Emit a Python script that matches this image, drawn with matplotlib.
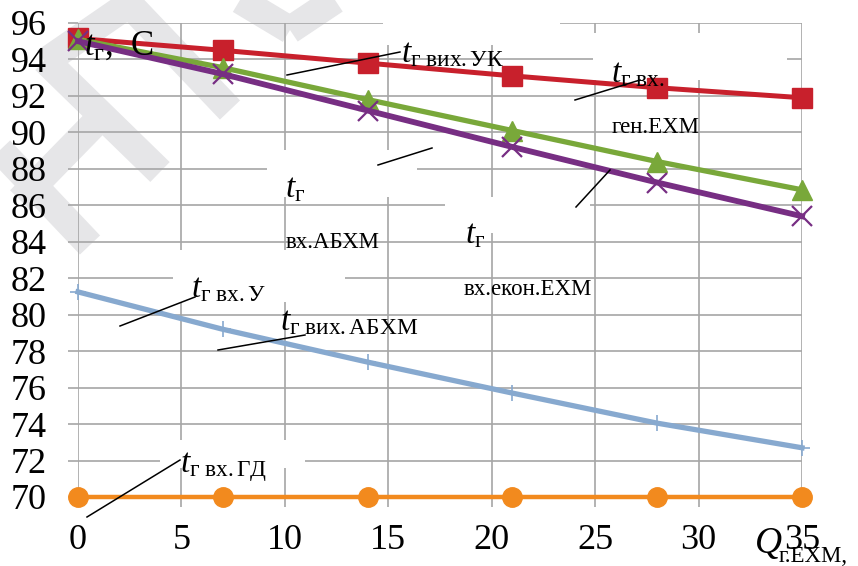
import matplotlib
matplotlib.use("Agg")
import matplotlib.pyplot as plt
from matplotlib.lines import Line2D
from matplotlib.patches import Rectangle

# load Q, kW -> gas temperatures, C
q = [0, 7, 14, 21, 28, 35]
t_vih_uk = [95.15, 94.5, 93.8, 93.1, 92.45, 91.9]
t_vh_abhm = [95.1, 93.55, 91.8, 90.1, 88.4, 86.85]
t_vh_ekon = [95.0, 93.2, 91.2, 89.2, 87.25, 85.4]
t_vih_abhm = [81.25, 79.2, 77.4, 75.7, 74.05, 72.7]
t_vh_gd = [70, 70, 70, 70, 70, 70]

xticks = [0, 5, 10, 15, 20, 25, 30, 35]
yticks = list(range(70, 97, 2))

SERIF = "Liberation Serif"
plt.rcParams["font.family"] = [SERIF, "DejaVu Serif"]
plt.rcParams["mathtext.fontset"] = "custom"
plt.rcParams["mathtext.rm"] = SERIF
plt.rcParams["mathtext.it"] = SERIF + ":italic"

W, H = 858, 566
GRID = "#a6a6a6"

def fp(x, y):
    # pixel position -> figure fraction
    return x / W, 1 - y / H

fig = plt.figure(figsize=(W / 100, H / 100), dpi=100)
l, t = fp(78, 23)
r, b = fp(802, 497)
ax = fig.add_axes([l, b, r - l, t - b])

# watermark strokes
for (x0, y0), (x1, y1) in [((0, 150), (90, 245)), ((45, 60), (160, 172)),
                           ((20, 200), (100, 118)), ((45, 62), (135, 0)),
                           ((130, 5), (230, 110)),
                           ((240, 0), (290, 30)), ((290, 30), (335, 0))]:
    a0, b0 = fp(x0, y0)
    a1, b1 = fp(x1, y1)
    fig.add_artist(Line2D([a0, a1], [b0, b1], transform=fig.transFigure,
                          color="#e6e6e8", lw=20, solid_capstyle="butt",
                          zorder=0))
ax.patch.set_alpha(0)

ax.plot(q, t_vih_abhm, color="#87a9cf", lw=3.8, marker="+", ms=11, mew=1.2,
        zorder=3, clip_on=False)
ax.plot(q, t_vh_gd, color="#f28a1e", lw=3.2, marker="o", ms=14,
        zorder=3, clip_on=False)
ax.plot(q, t_vih_uk, color="#c8202c", lw=3.6, marker="s", ms=14,
        zorder=3, clip_on=False)
ax.plot(q, t_vh_abhm, color="#79a83a", lw=3.8, marker="^", ms=14,
        zorder=3, clip_on=False)
ax.plot(q, t_vh_ekon, color="#772e83", lw=4.2, marker="x", ms=14, mew=1.6,
        zorder=3, clip_on=False)

ax.set_xlim(0, 35)
ax.set_ylim(70, 96)
ax.set_xticks(xticks)
ax.set_yticks(yticks)
ax.grid(True, color=GRID, lw=1.2)
ax.set_axisbelow(True)
for s in ax.spines.values():
    s.set_visible(False)
ax.tick_params(length=7.5, width=1.2, color=GRID, labelsize=26)
ax.tick_params(axis="y", pad=15)
ax.tick_params(axis="x", pad=12)

# white boxes of the captions
for x0, y0, x1, y1 in [(383, 15, 560, 45), (593, 33, 787, 80),
                       (267, 150, 417, 197), (445, 197, 590, 233),
                       (173, 250, 345, 302), (160, 440, 305, 468)]:
    a0, b0 = fp(x0, y1)
    a1, b1 = fp(x1, y0)
    ax.add_patch(Rectangle((a0, b0), a1 - a0, b1 - b0, transform=fig.transFigure,
                           facecolor="white", edgecolor="none", zorder=1,
                           clip_on=False))

def txt(x, y, s, size, italic=False):
    a, c = fp(x, y)
    ax.text(a, c, s, transform=fig.transFigure, fontsize=size,
            style="italic" if italic else "normal",
            va="baseline", ha="left", zorder=5, clip_on=False)

# axis captions
txt(84, 55, r"$t_\mathrm{г}$,  С", 25)
txt(755, 553, "Q", 27, True)
txt(779, 562, "г.ЕХМ,", 16.5)

# curve captions
txt(401, 62, r"$t_\mathrm{г\ вих.УК}$", 24)
txt(611, 82, r"$t_\mathrm{г\ вх.}$", 24)
txt(612, 133, "ген.ЕХМ", 16.5)
txt(285, 197, r"$t_\mathrm{г}$", 24)
txt(286, 248, "вх.АБХМ", 16.5)
txt(465, 243, r"$t_\mathrm{г}$", 24)
txt(464, 295, "вх.екон.ЕХМ", 16.5)
txt(191, 297, r"$t_\mathrm{г\ вх.У}$", 24)
txt(280, 330, r"$t_\mathrm{г\ вих.АБХМ}$", 24)
txt(180, 472, r"$t_\mathrm{г\ вх.ГД}$", 24)

# leader lines
for (x0, y0), (x1, y1) in [((287, 75), (400, 52)), ((575, 100), (640, 80)),
                           ((378, 165), (432, 148)), ((576, 207), (610, 170)),
                           ((120, 326), (195, 297)), ((218, 350), (305, 335)),
                           ((87, 517), (180, 460))]:
    a0, b0 = fp(x0, y0)
    a1, b1 = fp(x1, y1)
    ax.add_line(Line2D([a0, a1], [b0, b1], transform=fig.transFigure,
                       color="black", lw=1.1, zorder=6, clip_on=False))

fig.savefig("out.png", dpi=100)
